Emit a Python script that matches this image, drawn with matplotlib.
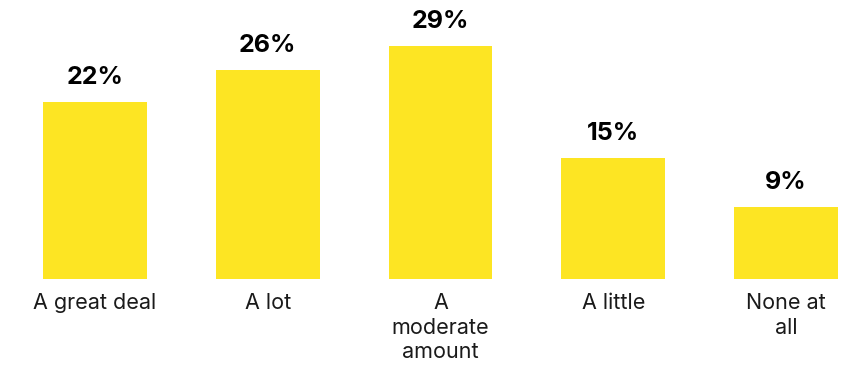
import matplotlib
matplotlib.use('Agg')
import matplotlib.pyplot as plt

plt.rcParams['font.family'] = ['Inter', 'DejaVu Sans']

categories = ['A great deal', 'A lot', 'A\nmoderate\namount', 'A little', 'None at\nall']
values = [22, 26, 29, 15, 9]
labels = ['22%', '26%', '29%', '15%', '9%']

bar_color = '#FDE523'
text_color = '#1a1a1a'

fig = plt.figure(figsize=(8.55, 3.65), dpi=100)
ax = fig.add_axes([43 / 855, 86 / 365, 795 / 855, 279 / 365])

x = list(range(len(values)))
bars = ax.bar(x, values, width=0.6, color=bar_color)

for xi, v, lab in zip(x, values, labels):
    ax.annotate(lab, (xi, v), xytext=(0, 13), textcoords='offset pixels',
                ha='center', va='bottom', fontsize=18, fontweight='bold',
                color='black')

ax.set_xlim(-0.3, 4.3)
ax.set_ylim(0, 279 / 8.05)
ax.set_xticks(x)
ax.set_xticklabels(categories, fontsize=15.5, color=text_color, linespacing=1.3)
ax.tick_params(axis='x', length=0, pad=10)
ax.set_yticks([])
for s in ax.spines.values():
    s.set_visible(False)

fig.savefig('out.png', dpi=100)
